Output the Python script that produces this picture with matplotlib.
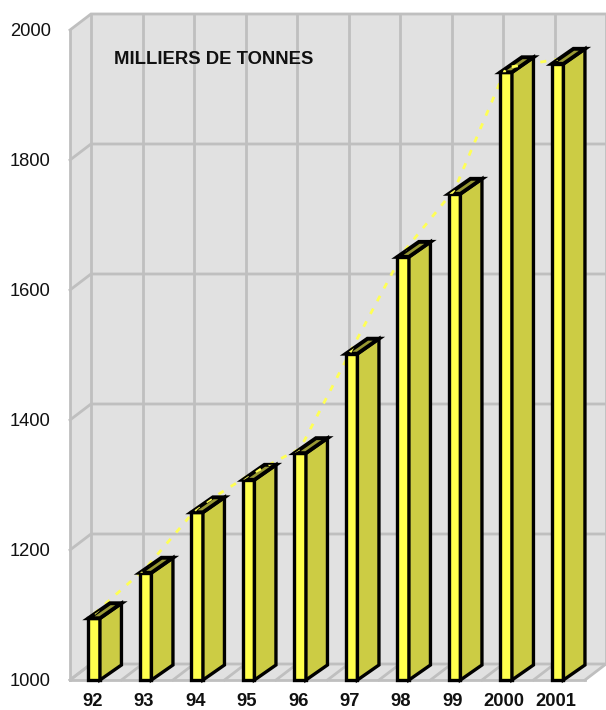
import matplotlib.pyplot as plt
from matplotlib.patches import Polygon

plt.rcParams['font.family'] = ['Liberation Sans', 'DejaVu Sans']

annees = ["92", "93", "94", "95", "96", "97", "98", "99", "2000", "2001"]
tonnes = [1095, 1165, 1258, 1308, 1349, 1502, 1651, 1748, 1935, 1948]
courbe = [1102, 1172, 1265, 1315, 1356, 1509, 1658, 1755, 1942, 1955]
graduations = [1000, 1200, 1400, 1600, 1800, 2000]

W, H = 606, 710
fig = plt.figure(figsize=(W / 100, H / 100), dpi=100, facecolor="white")
# the axes frame is the front of the 3D box, the back wall is shifted by dx, dy
ax = fig.add_axes([70 / W, (H - 680) / H, 515 / W, 650 / H])
ax.set_xlim(-0.5, 9.5)
ax.set_ylim(1000, 2000)
for s in ax.spines.values():
    s.set_visible(False)

dx = 21 / 51.5
dy = 16 / 0.65
dx_barre = 21.5 / 51.5
dy_barre = 15 / 0.65
n = len(annees)
gris = "#bfbfbf"
fond = "#e1e1e1"
x0, x1 = -0.5, n - 0.5
y0, y1 = 1000, 2000

# walls and floor
ax.fill([x0 + dx, x1 + dx, x1 + dx, x0 + dx], [y0 + dy, y0 + dy, y1 + dy, y1 + dy],
        color=fond, lw=0, zorder=1, clip_on=False)
ax.fill([x0, x0 + dx, x0 + dx, x0], [y0, y0 + dy, y1 + dy, y1],
        color=fond, lw=0, zorder=1, clip_on=False)
ax.fill([x0, x1, x1 + dx, x0 + dx], [y0, y0, y0 + dy, y0 + dy],
        color=fond, lw=0, zorder=1, clip_on=False)

# grid on the walls
for g in graduations:
    ax.plot([x0, x0 + dx, x1 + dx], [g, g + dy, g + dy], color=gris, lw=2, zorder=2,
            clip_on=False, solid_joinstyle="miter")
for k in range(n + 1):
    ax.plot([x0 + k + dx, x0 + k + dx], [y0 + dy, y1 + dy], color=gris, lw=2, zorder=2, clip_on=False)
    ax.plot([x0 + k, x0 + k + dx], [y0, y0 + dy], color=gris, lw=2, zorder=2, clip_on=False)
ax.plot([x0, x0], [y0, y1], color=gris, lw=2, zorder=2, clip_on=False)
ax.plot([x0, x1], [y0, y0], color=gris, lw=2, zorder=2, clip_on=False)

# dashed series, behind the bars
pos = [i - 0.03 for i in range(n)]
style_courbe = dict(color="#ffff55", lw=2, ls=(0, (2.2, 3)), clip_on=False)
ax.plot(pos, courbe, zorder=3, **style_courbe)

# bars
larg = 11.5 / 51.5
for p, v in zip(pos, tonnes):
    g = p - larg / 2
    d = p + larg / 2
    ax.fill([g, d, d, g], [y0, y0, v, v], facecolor="#ffff4d", edgecolor="black", lw=2.4,
            zorder=4, clip_on=False, joinstyle="miter")
    ax.fill([d, d + dx_barre, d + dx_barre, d], [y0, y0 + dy_barre, v + dy_barre, v],
            facecolor="#cccc44", edgecolor="black", lw=2.4, zorder=4, clip_on=False, joinstyle="miter")
    ax.fill([g, d, d + dx_barre, g + dx_barre], [v, v, v + dy_barre, v + dy_barre],
            facecolor="#999933", edgecolor="black", lw=2.8, zorder=4, clip_on=False, joinstyle="miter")
    # the series only shows again over the top face
    dessus = Polygon([[g, v], [d, v], [d + dx_barre, v + dy_barre], [g + dx_barre, v + dy_barre]],
                     transform=ax.transData)
    ligne, = ax.plot(pos, courbe, zorder=5, **style_courbe)
    ligne.set_clip_on(True)
    ligne.set_clip_path(dessus)

ax.set_yticks(graduations)
ax.set_yticklabels([str(g) for g in graduations], fontsize=13.2, color="#111111")
ax.set_xticks([i - 0.07 for i in range(n)])
ax.set_xticklabels(annees, fontsize=13.2, fontweight="bold", color="#111111")
ax.tick_params(axis="both", length=0)
ax.tick_params(axis="y", pad=14)
ax.tick_params(axis="x", pad=9.5)

ax.text(114, H - 59, "MILLIERS DE TONNES", transform=None, fontsize=13.3, fontweight="bold",
        color="#111111", va="center", ha="left", zorder=6)

fig.savefig("out.png", dpi=100)
